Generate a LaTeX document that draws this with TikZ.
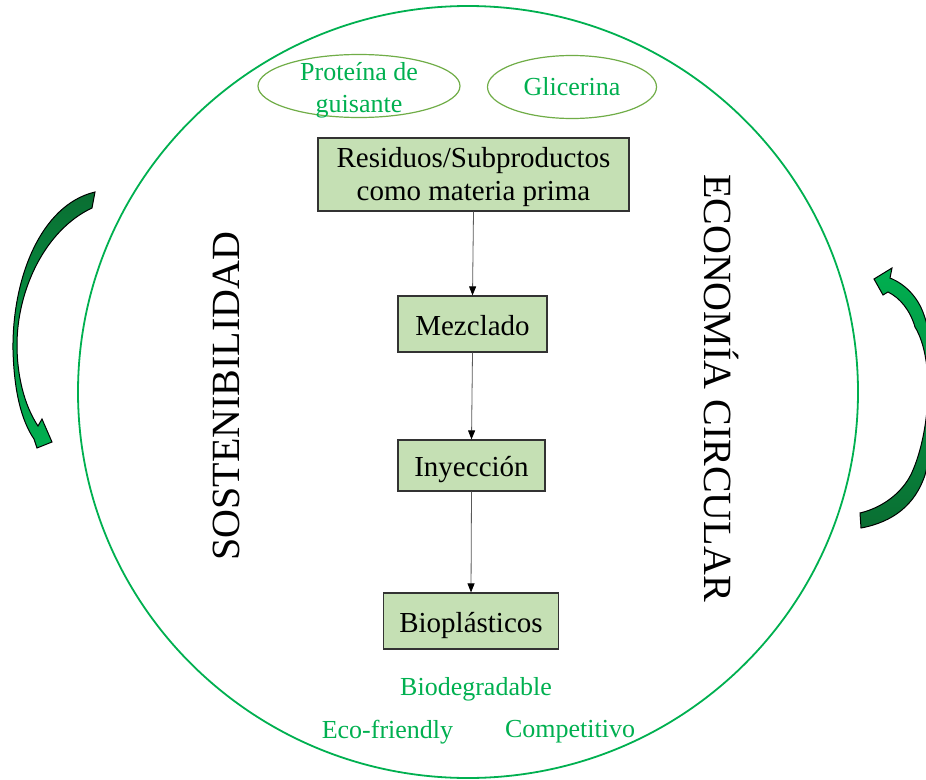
\documentclass[tikz,border=0pt]{standalone}
\usepackage{fontspec}
\setmainfont{Liberation Serif}
\usetikzlibrary{arrows.meta,shapes.geometric,shadings}
\definecolor{kgreen}{HTML}{00B050}
\definecolor{olivebd}{HTML}{70AD47}
\definecolor{boxfill}{HTML}{C5E0B4}
\definecolor{darkg}{HTML}{0A6E32}
\begin{document}
\begin{tikzpicture}[x=1pt,y=-1pt,
  stepbox/.style={draw=black!80, line width=1.2pt, fill=boxfill, inner sep=0pt,
    font=\fontsize{29}{33}\selectfont, text height=22pt, text depth=0pt},
  boxtext/.style={font=\fontsize{29}{33}\selectfont, inner sep=0pt, anchor=base},
  pill/.style={ellipse, draw=olivebd, line width=1.2pt, inner sep=0pt},
  gtext/.style={text=kgreen, font=\fontsize{26}{32}\selectfont, inner sep=0pt, align=center},
  conn/.style={draw=black!65, line width=0.8pt, -{Triangle[length=9pt,width=7pt,fill=black,color=black]}},
  bigword/.style={font=\fontsize{40}{44}\selectfont, inner sep=0pt},
  curvarrow/.style={draw=black, line width=1pt}]
\clip (0,0) rectangle (926,779);
\fill[white] (0,0) rectangle (926,779);

% big ring
\node[ellipse, draw=kgreen, line width=1.8pt, minimum width=780, minimum height=772, inner sep=0pt] (ring) at (468,392) {};

% ingredient ellipses
\node[pill, minimum width=202, minimum height=63] (prot) at (359,86) {};
\node[gtext, anchor=base] (protA) at (359,80) {Proteína de};
\node[gtext, anchor=base] (protB) at (359,112) {guisante};
\node[pill, minimum width=169, minimum height=63] (glic) at (572,87) {};
\node[gtext, anchor=base] (glicT) at (572,95) {Glicerina};

% process boxes
\node[stepbox, minimum width=311, minimum height=73] (res) at (473.5,174.5) {};
\node[boxtext] (resA) at (473.5,167) {Residuos/Subproductos};
\node[boxtext] (resB) at (473.5,200) {como materia prima};
\node[stepbox, minimum width=149, minimum height=56] (mez) at (472.5,324) {Mezclado};
\node[stepbox, minimum width=147, minimum height=51] (iny) at (471.5,465.5) {Inyección};
\node[stepbox, minimum width=175, minimum height=56] (bio) at (471,621) {Bioplásticos};

\draw[conn] (res.south) -- (mez.north);
\draw[conn] (mez.south) -- (iny.north);
\draw[conn] (iny.south) -- (bio.north);

% outcome labels
\node[gtext, anchor=base] (biod) at (476,695) {Biodegradable};
\node[gtext, anchor=base] (eco) at (387.5,738) {Eco-friendly};
\node[gtext, anchor=base] (comp) at (570,737) {Competitivo};

% vertical words
\node[bigword, rotate=90] (sost) at (226,396) {SOSTENIBILIDAD};
\node[bigword, rotate=-90] (econ) at (721,388) {ECONOMÍA CIRCULAR};

% left curved arrow
\shade[curvarrow, top color=darkg, bottom color=kgreen]
  (95,192) .. controls (40,205) and (12,280) .. (13,350)
  .. controls (14,390) and (21,420) .. (34,439)
  -- (37,448) -- (52,442) -- (42,419) -- (38,426)
  .. controls (24,405) and (17,375) .. (17,345)
  .. controls (17,290) and (45,230) .. (92,208) -- cycle;

% right curved arrow
\shade[curvarrow, top color=kgreen, bottom color=darkg]
  (890,278) .. controls (905,284) and (918,297) .. (924,315)
  .. controls (935,345) and (940,420) .. (925,475)
  .. controls (915,505) and (893,522) .. (861,528)
  -- (860,513)
  .. controls (885,507) and (905,490) .. (913,470)
  .. controls (930,430) and (935,360) .. (915,327)
  .. controls (910,310) and (900,298) .. (888,292)
  -- (883,295) -- (874,279) -- (892,268) -- cycle;
\end{tikzpicture}
\end{document}
